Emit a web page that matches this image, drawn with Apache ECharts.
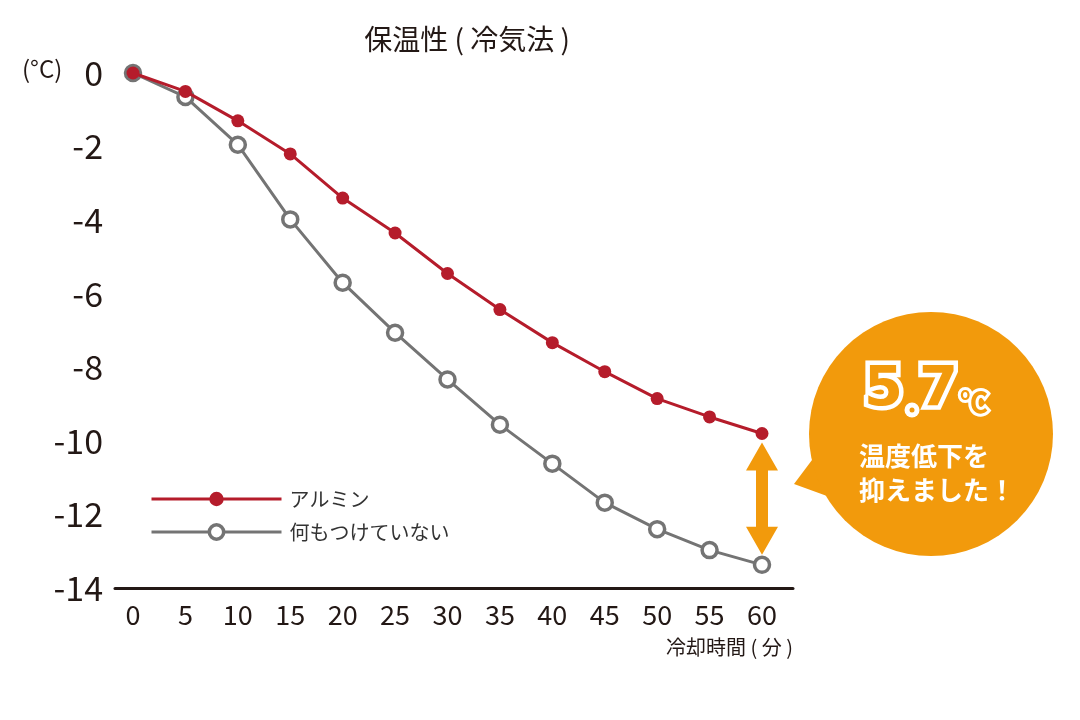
<!DOCTYPE html>
<html>
<head>
<meta charset="utf-8">
<script src="https://cdn.jsdelivr.net/npm/echarts@6/dist/echarts.min.js"></script>
<style>
html,body{margin:0;padding:0;background:#fff;}
#main{width:1080px;height:720px;}
</style>
</head>
<body>
<div id="main"></div>
<script>
const minutes = [0, 5, 10, 15, 20, 25, 30, 35, 40, 45, 50, 55, 60];
const aluminum = [0, -0.5, -1.3, -2.2, -3.4, -4.35, -5.45, -6.43, -7.33, -8.12, -8.85, -9.35, -9.8];
const noCover = [0, -0.65, -1.95, -3.98, -5.7, -7.06, -8.33, -9.56, -10.62, -11.68, -12.4, -12.97, -13.37];
const seriesNames = ['アルミン', '何もつけていない'];
const FONT = '"Noto Sans CJK JP", "Noto Sans", sans-serif';
const RED = '#b51c2b';
const GRAY = '#747474';
const ORANGE = '#f29a0c';
const TXT = '#231815';

const chart = echarts.init(document.getElementById('main'));
const option = {
  backgroundColor: '#fff',
  animation: false,
  textStyle: { fontFamily: FONT },
  title: {
    text: '保温性 ( 冷気法 )',
    left: 462, top: 20,
    textAlign: 'center',
    textStyle: { fontFamily: FONT, fontSize: 28, fontWeight: 'normal', color: TXT }
  },
  legend: {
    data: [
      { name: seriesNames[0], itemStyle: { color: RED, borderWidth: 0 }, lineStyle: { width: 3, color: RED } },
      { name: seriesNames[1], itemStyle: { color: '#fff', borderColor: GRAY, borderWidth: 3.5 }, lineStyle: { width: 3, color: GRAY } }
    ],
    orient: 'vertical',
    left: 150, top: 489, padding: 0,
    itemWidth: 130, itemHeight: 18, itemGap: 13,
    textStyle: { fontFamily: FONT, fontSize: 20, color: '#333', padding: [0, 0, 0, 3] }
  },
  grid: [
    { left: 133, right: 318, top: 73, bottom: 132 },
    { left: 115, right: 287, top: 73, bottom: 132 }
  ],
  xAxis: [
    {
      type: 'value', gridIndex: 0, min: 0, max: 60, interval: 5,
      axisLine: { show: false }, axisTick: { show: false }, splitLine: { show: false },
      axisLabel: { fontFamily: FONT, fontSize: 27, color: TXT, margin: 13 }
    },
    {
      type: 'value', gridIndex: 1, min: 0, max: 1, position: 'bottom',
      axisLine: { show: true, onZero: false, lineStyle: { color: TXT, width: 3 } },
      axisTick: { show: false }, splitLine: { show: false }, axisLabel: { show: false }
    }
  ],
  yAxis: [
    {
      type: 'value', gridIndex: 0, min: -14, max: 0, interval: 2,
      axisLine: { show: false }, axisTick: { show: false }, splitLine: { show: false },
      axisLabel: { fontFamily: FONT, fontSize: 34, color: TXT, margin: 30 }
    },
    {
      type: 'value', gridIndex: 1, min: -14, max: 0, show: false
    }
  ],
  series: [
    {
      name: seriesNames[1], type: 'line', xAxisIndex: 0, yAxisIndex: 0,
      data: minutes.map((m, i) => [m, noCover[i]]),
      symbol: 'circle', symbolSize: 15,
      lineStyle: { color: GRAY, width: 3 },
      itemStyle: { color: '#fff', borderColor: GRAY, borderWidth: 3.5 },
      z: 2
    },
    {
      name: seriesNames[0], type: 'line', xAxisIndex: 0, yAxisIndex: 0,
      data: minutes.map((m, i) => [m, aluminum[i]]),
      symbol: 'circle', symbolSize: 13,
      lineStyle: { color: RED, width: 3 },
      itemStyle: { color: RED, borderColor: RED, borderWidth: 0 },
      z: 3
    }
  ],
  graphic: [
    {
      type: 'text', left: 22, top: 57,
      style: { text: '(°C)', font: '24px ' + FONT, fill: TXT }
    },
    {
      type: 'text', right: 287, top: 637,
      style: { text: '冷却時間 ( 分 )', font: '20px ' + FONT, fill: TXT }
    },
    {
      type: 'group', z: 10,
      children: [
        { type: 'polygon', shape: { points: [[794, 484], [818, 452], [838, 500]] }, style: { fill: ORANGE } },
        { type: 'circle', shape: { cx: 931, cy: 434, r: 122 }, style: { fill: ORANGE } },
        {
          type: 'text', x: 864, y: 362,
          style: { text: '5', font: 'bold 56px "DejaVu Sans", sans-serif', fill: ORANGE, stroke: '#fff', lineWidth: 9, lineJoin: 'round' }
        },
        { type: 'circle', shape: { cx: 912, cy: 410, r: 7.5 }, style: { fill: '#fff' } },
        { type: 'circle', shape: { cx: 912, cy: 410, r: 2.5 }, style: { fill: ORANGE } },
        {
          type: 'text', x: 919, y: 362,
          style: { text: '7', font: 'bold 56px "DejaVu Sans", sans-serif', fill: ORANGE, stroke: '#fff', lineWidth: 9, lineJoin: 'round' }
        },
        {
          type: 'text', x: 960, y: 388,
          style: { text: '℃', font: 'bold 28px ' + FONT, fill: ORANGE, stroke: '#fff', lineWidth: 6, lineJoin: 'round' }
        },
        {
          type: 'text', x: 859, y: 443,
          style: { text: '温度低下を', font: 'bold 26px ' + FONT, fill: '#fff' }
        },
        {
          type: 'text', x: 859, y: 477,
          style: { text: '抑えました！', font: 'bold 26px ' + FONT, fill: '#fff' }
        }
      ]
    }
  ]
};
chart.setOption(option);

// double-headed arrow between the last values of the two series, located through the chart's scales
const last = minutes.length - 1;
const pTop = chart.convertToPixel({ gridIndex: 0 }, [minutes[last], aluminum[last]]);
const pBot = chart.convertToPixel({ gridIndex: 0 }, [minutes[last], noCover[last]]);
const cx = pTop[0];
const y1 = pTop[1] + 9, y2 = pBot[1] - 10;
const hh = 28, hw = 16, sw = 6;
chart.setOption({
  graphic: option.graphic.concat([{
    type: 'polygon', z: 5,
    shape: {
      points: [
        [cx, y1], [cx + hw, y1 + hh], [cx + sw, y1 + hh], [cx + sw, y2 - hh], [cx + hw, y2 - hh],
        [cx, y2], [cx - hw, y2 - hh], [cx - sw, y2 - hh], [cx - sw, y1 + hh], [cx - hw, y1 + hh]
      ]
    },
    style: { fill: ORANGE }
  }])
}, { replaceMerge: ['graphic'] });
</script>
</body>
</html>
